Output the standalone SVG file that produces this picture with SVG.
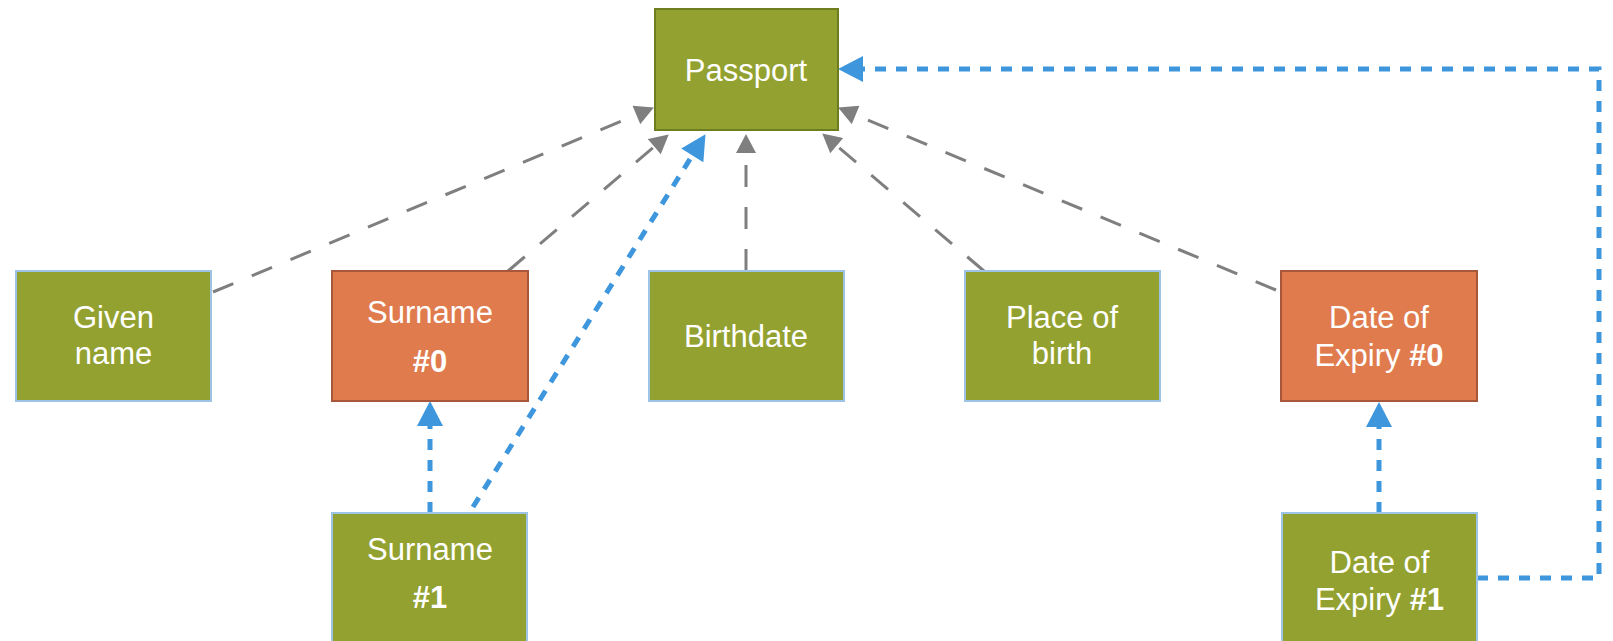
<svg xmlns="http://www.w3.org/2000/svg" width="1613" height="641" viewBox="0 0 1613 641">
<defs>
<style>
.olive{fill:#93A130;stroke:#9DC3E6;stroke-width:2}
.orange{fill:#E07B4E;stroke:#A9573A;stroke-width:2}
.root{fill:#93A130;stroke:#6E7D1E;stroke-width:2}
text{font-family:"Liberation Sans",Arial,sans-serif;font-size:31px;fill:#FFFFFF;text-anchor:middle}
.b{font-weight:bold}
.gray{fill:none;stroke:#7F7F7F;stroke-width:3;stroke-dasharray:22 20}
.blue{fill:none;stroke:#3E96DD;stroke-width:5;stroke-dasharray:11 10}
</style>
<marker id="ag" markerUnits="userSpaceOnUse" markerWidth="20" markerHeight="20" refX="0" refY="9.5" orient="auto" viewBox="0 0 18 19">
<path d="M0,0 L18,9.5 L0,19 Z" fill="#7F7F7F"/>
</marker>
<marker id="ab" markerUnits="userSpaceOnUse" markerWidth="26" markerHeight="26" refX="0" refY="12.5" orient="auto" viewBox="0 0 24 25">
<path d="M0,0 L24,12.5 L0,25 Z" fill="#3E96DD"/>
</marker>
</defs>
<rect width="1613" height="641" fill="#FFFFFF"/>
<g id="connectors">
<path class="gray" d="M213,292 L636.4,114.9" marker-end="url(#ag)"/>
<path class="gray" d="M508,271 L654.3,146.7" marker-end="url(#ag)"/>
<path class="gray" d="M746,271 L746,153" marker-end="url(#ag)"/>
<path class="gray" d="M984,271 L836.7,145.7" marker-end="url(#ag)"/>
<path class="gray" d="M1276,290 L855.6,114.9" marker-end="url(#ag)"/>
<path class="blue" d="M430,513 L430,426" marker-end="url(#ab)"/>
<path class="blue" d="M473,507 L692.3,155.4" marker-end="url(#ab)"/>
<path class="blue" d="M1379,513 L1379,427" marker-end="url(#ab)"/>
<path class="blue" d="M1477,578 H1599 V69 H863" marker-end="url(#ab)"/>
</g>
<g id="passport">
<rect class="root" x="655" y="9" width="183" height="121"/>
<text x="746" y="81">Passport</text>
</g>
<g id="given-name">
<rect class="olive" x="16" y="271" width="195" height="130"/>
<text x="113.5" y="328">Given</text>
<text x="113.5" y="364">name</text>
</g>
<g id="surname-0">
<rect class="orange" x="332" y="271" width="196" height="130"/>
<text x="430" y="323">Surname</text>
<text class="b" x="430" y="372">#0</text>
</g>
<g id="birthdate">
<rect class="olive" x="649" y="271" width="195" height="130"/>
<text x="746" y="347">Birthdate</text>
</g>
<g id="place-of-birth">
<rect class="olive" x="965" y="271" width="195" height="130"/>
<text x="1062" y="328">Place of</text>
<text x="1062" y="364">birth</text>
</g>
<g id="date-of-expiry-0">
<rect class="orange" x="1281" y="271" width="196" height="130"/>
<text x="1379" y="328">Date of</text>
<text x="1379" y="366">Expiry <tspan class="b">#0</tspan></text>
</g>
<g id="surname-1">
<rect class="olive" x="332" y="513" width="195" height="135"/>
<text x="430" y="560">Surname</text>
<text class="b" x="430" y="608">#1</text>
</g>
<g id="date-of-expiry-1">
<rect class="olive" x="1282" y="513" width="195" height="135"/>
<text x="1379.5" y="573">Date of</text>
<text x="1379.5" y="610">Expiry <tspan class="b">#1</tspan></text>
</g>
</svg>
